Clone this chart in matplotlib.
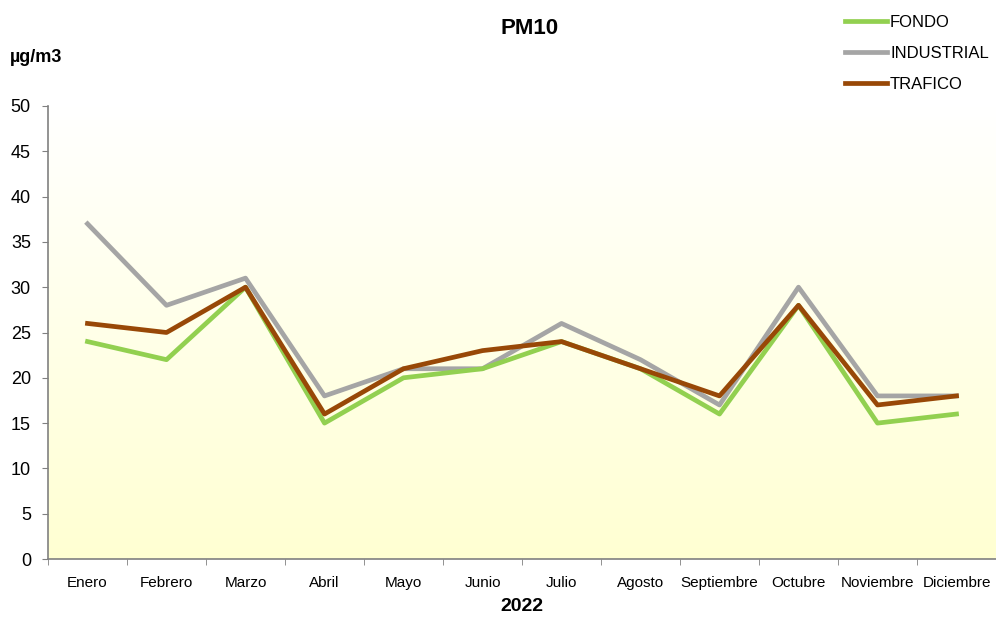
import matplotlib
matplotlib.use("Agg")
import matplotlib.pyplot as plt
import numpy as np
from matplotlib.colors import LinearSegmentedColormap

# Monthly PM10 averages per station type
months = ['Enero', 'Febrero', 'Marzo', 'Abril', 'Mayo', 'Junio', 'Julio',
          'Agosto', 'Septiembre', 'Octubre', 'Noviembre', 'Diciembre']
fondo = [24, 22, 30, 15, 20, 21, 24, 21, 16, 28, 15, 16]
industrial = [37, 28, 31, 18, 21, 21, 26, 22, 17, 30, 18, 18]
trafico = [26, 25, 30, 16, 21, 23, 24, 21, 18, 28, 17, 18]

plt.rcParams['font.family'] = ['Liberation Sans', 'DejaVu Sans']

fig = plt.figure(figsize=(9.96, 6.17), dpi=100)
ax = fig.add_axes([48 / 996, 1 - 559 / 617, 948 / 996, (559 - 106) / 617])

# white-to-pale-yellow background
cmap = LinearSegmentedColormap.from_list('bg', ['#FFFFD2', '#FFFFFF'])
grad = np.linspace(0, 1, 256).reshape(-1, 1)
ax.imshow(grad, extent=[-0.5, 11.5, 0, 50], origin='lower', aspect='auto',
          cmap=cmap, zorder=0)

x = np.arange(len(months))
ax.plot(x, fondo, color='#92D050', lw=3.4, label='FONDO', zorder=3)
ax.plot(x, industrial, color='#A5A5A5', lw=3.4, label='INDUSTRIAL', zorder=2)
ax.plot(x, trafico, color='#984807', lw=3.4, label='TRAFICO', zorder=4)

ax.set_xlim(-0.5, 11.5)
ax.set_ylim(0, 50)
ax.set_yticks(range(0, 51, 5))
ax.tick_params(axis='y', labelsize=13, length=4.3, color='#808080', pad=8)
ax.set_xticks(x)
ax.set_xticklabels(months, fontsize=11)
ax.tick_params(axis='x', which='major', length=0, pad=12)
ax.set_xticks(np.arange(-0.5, 12, 1), minor=True)
ax.tick_params(axis='x', which='minor', length=4.3, color='#808080')

for s in ['top', 'right']:
    ax.spines[s].set_visible(False)
for s in ['left', 'bottom']:
    ax.spines[s].set_color('#808080')
    ax.spines[s].set_linewidth(1.2)

ax.set_xlabel('2022', fontsize=14, fontweight='bold', labelpad=6)
fig.text(530 / 996, 1 - 28 / 617, 'PM10', fontsize=16, fontweight='bold',
         ha='center', va='center')
fig.text(10 / 996, 1 - 57 / 617, 'µg/m3', fontsize=13, fontweight='bold',
         ha='left', va='center')

fig.legend(loc='upper left', bbox_to_anchor=(830 / 996, 1.0), frameon=False,
           fontsize=12, handlelength=2.5, handletextpad=0.2, labelspacing=0.95)

plt.savefig('out.png', dpi=100)
